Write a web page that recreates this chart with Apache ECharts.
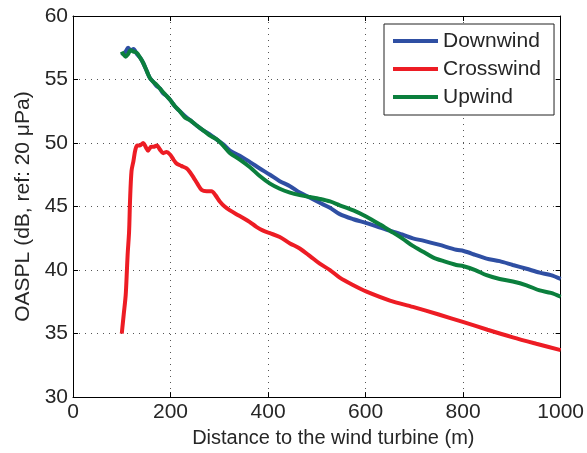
<!DOCTYPE html>
<html>
<head>
<meta charset="utf-8">
<script src="https://cdn.jsdelivr.net/npm/echarts@6/dist/echarts.min.js"></script>
<style>html,body{margin:0;padding:0;background:#fff;}#c{width:587px;height:453px;}</style>
</head>
<body>
<div id="c"></div>
<script>
var xTicks = [0, 200, 400, 600, 800, 1000];
var yTicks = [30, 35, 40, 45, 50, 55, 60];

var downX = [100,103,108,113,118,124,131,138,144,152,158,165,171,178,185,192,199,209,219,230,240,253,267,280,294,308,322,342,363,383,404,424,445,465,486,506,527,547,575,602,625,650,675,697,720,750,786,801,825,848,875,902,930,957,980,1000];
var downY = [57.1,57.0,57.2,57.5,57.3,57.4,57.0,56.7,56.3,55.6,55.1,54.8,54.5,54.3,53.9,53.7,53.4,52.9,52.5,52.1,51.8,51.4,51.0,50.7,50.3,49.9,49.4,49.0,48.5,48.0,47.5,47.0,46.6,46.1,45.7,45.3,44.9,44.4,44.0,43.7,43.4,43.1,42.8,42.5,42.3,42.0,41.6,41.5,41.2,40.9,40.7,40.4,40.1,39.8,39.6,39.3];

var crossX = [100,104,108,110,112,115,117,120,124,128,132,137,144,149,154,160,165,172,178,185,192,199,206,212,222,233,240,247,255,264,274,284,292,301,311,322,335,349,362,376,390,404,424,445,465,486,506,527,547,575,602,650,697,750,801,850,902,950,1000];
var crossY = [35.0,36.5,38.0,39.5,41.2,43.0,45.5,47.8,48.6,49.5,49.8,49.8,50.0,49.7,49.4,49.7,49.7,49.8,49.5,49.2,49.3,49.1,48.7,48.4,48.2,48.0,47.7,47.3,46.8,46.3,46.2,46.2,45.9,45.4,45.0,44.7,44.4,44.1,43.8,43.4,43.1,42.9,42.6,42.1,41.7,41.1,40.5,40.0,39.4,38.8,38.3,37.6,37.1,36.5,35.9,35.3,34.7,34.2,33.7];

var upX = [100,103,108,113,118,124,131,138,144,152,158,165,171,178,185,192,199,209,219,230,240,253,267,280,294,308,322,342,363,383,404,424,445,465,486,506,527,547,575,602,629,650,675,697,720,738,760,786,801,825,848,875,902,930,957,980,1000];
var upY = [57.2,57.0,56.8,57.0,57.3,57.2,57.1,56.7,56.3,55.6,55.1,54.8,54.6,54.3,54.0,53.7,53.4,52.9,52.5,52.0,51.8,51.4,51.0,50.6,50.3,49.8,49.2,48.7,48.1,47.4,46.8,46.4,46.1,45.9,45.75,45.6,45.4,45.1,44.7,44.2,43.6,43.1,42.5,41.9,41.4,41.0,40.7,40.4,40.3,40.0,39.6,39.3,39.1,38.8,38.4,38.2,37.9];

var seriesNames = ['Downwind', 'Crosswind', 'Upwind'];
var seriesColors = ['#2f4fa3', '#ed1c24', '#0b7f3d'];

function pairs(xs, ys) { return xs.map(function (x, i) { return [x, ys[i]]; }); }

var txt = '#262626';
var font = 'Liberation Sans, Arial, sans-serif';
var grid = { left: 73, right: 26, top: 16, bottom: 55 };
var dotted = { show: true, lineStyle: { color: '#555', width: 1, type: [1, 5] } };
var plain = function (v) { return String(v); };

var chart = echarts.init(document.getElementById('c'), null, { renderer: 'canvas' });
chart.setOption({
  animation: false,
  backgroundColor: '#fff',
  textStyle: { fontFamily: font },
  grid: grid,
  legend: {
    data: seriesNames.map(function (n) { return { name: n, icon: 'rect' }; }),
    orient: 'vertical',
    left: 384, top: 24,
    itemWidth: 45, itemHeight: 4, itemGap: 6,
    padding: [6, 13, 7, 9],
    borderColor: '#222', borderWidth: 1,
    backgroundColor: '#fff',
    textStyle: { fontFamily: font, fontSize: 21, color: txt, lineHeight: 22 }
  },
  xAxis: [{
    type: 'value', min: 0, max: 1000, interval: 200,
    name: 'Distance to the wind turbine (m)', nameLocation: 'middle', nameGap: 24,
    nameTextStyle: { fontFamily: font, fontSize: 20, color: txt, padding: [0, 0, 0, 33] },
    axisLine: { show: true, onZero: false, lineStyle: { color: '#000', width: 1 } },
    axisTick: { show: true, inside: true, length: 5, lineStyle: { color: '#000' } },
    axisLabel: { fontFamily: font, fontSize: 21, color: txt, margin: 5, formatter: plain },
    splitLine: dotted
  }, {
    type: 'value', min: 0, max: 1000, interval: 200, position: 'top',
    axisLine: { show: true, onZero: false, lineStyle: { color: '#000', width: 1 } },
    axisTick: { show: true, inside: true, length: 5, lineStyle: { color: '#000' } },
    axisLabel: { show: false }, splitLine: { show: false }
  }],
  yAxis: [{
    type: 'value', min: 30, max: 60, interval: 5,
    name: 'OASPL (dB, ref: 20 \u03bcPa)', nameLocation: 'middle', nameGap: 38,
    nameTextStyle: { fontFamily: font, fontSize: 21, color: txt },
    axisLine: { show: true, onZero: false, lineStyle: { color: '#000', width: 1 } },
    axisTick: { show: true, inside: true, length: 5, lineStyle: { color: '#000' } },
    axisLabel: { fontFamily: font, fontSize: 21, color: txt, margin: 5, formatter: plain },
    splitLine: dotted
  }, {
    type: 'value', min: 30, max: 60, interval: 5, position: 'right',
    axisLine: { show: true, onZero: false, lineStyle: { color: '#000', width: 1 } },
    axisTick: { show: true, inside: true, length: 5, lineStyle: { color: '#000' } },
    axisLabel: { show: false }, splitLine: { show: false }
  }],
  series: [
    { name: seriesNames[0], type: 'line', data: pairs(downX, downY), showSymbol: false, symbol: 'none', smooth: 0.3, color: seriesColors[0], lineStyle: { width: 4, color: seriesColors[0] } },
    { name: seriesNames[1], type: 'line', data: pairs(crossX, crossY), showSymbol: false, symbol: 'none', smooth: 0.3, color: seriesColors[1], lineStyle: { width: 4, color: seriesColors[1] } },
    { name: seriesNames[2], type: 'line', data: pairs(upX, upY), showSymbol: false, symbol: 'none', smooth: 0.3, color: seriesColors[2], lineStyle: { width: 4, color: seriesColors[2] } }
  ]
});
</script>
</body>
</html>
